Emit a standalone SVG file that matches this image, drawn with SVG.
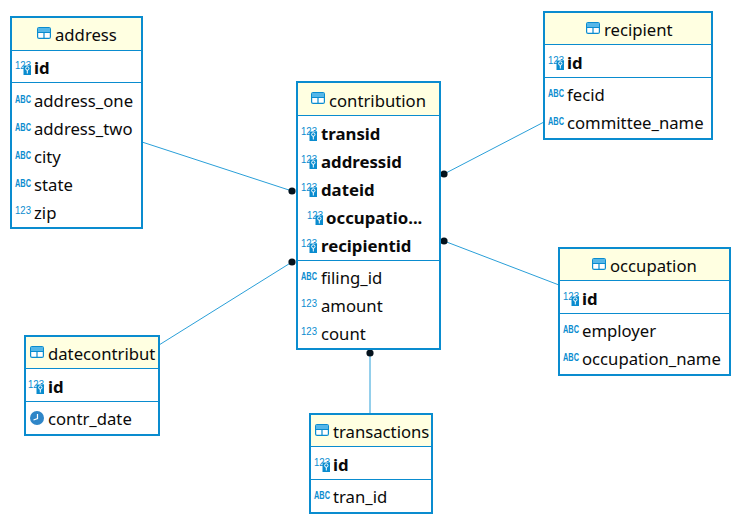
<svg xmlns="http://www.w3.org/2000/svg" width="741" height="525" viewBox="0 0 741 525">
<style>
.box{fill:#fff;stroke:#0a8ccf;stroke-width:2}
.hd{fill:#ffffe1}
.sep{stroke:#0a8ccf;stroke-width:1;fill:none}
.t{font-family:"Noto Sans","Open Sans",sans-serif;font-size:16.7px;fill:#0a0a0a}
.b{font-weight:700;font-size:16.800px}
.c{fill:none;stroke:#2a9fd8;stroke-width:1}
.ic{font-family:"Liberation Sans",sans-serif;fill:#0a8ccf}
.n{font-size:10.5px}
.a{font-size:10px;font-weight:700}
</style>
<defs>
<marker id="dot" markerUnits="userSpaceOnUse" markerWidth="9" markerHeight="9" refX="4.5" refY="4.5"><circle cx="4.5" cy="4.5" r="3.6" fill="#04121c"/></marker>
<g id="tbl"><rect x="0.6" y="0.6" width="12.8" height="10.8" rx="1.5" fill="#fff" stroke="#0a8ccf" stroke-width="1.2"/><rect x="1" y="1" width="12" height="4" fill="#55b7e8"/><path d="M1 5.500H14M7 5.500V11.500" stroke="#0a8ccf" stroke-width="1.2" fill="none"/></g>
<g id="key"><text class="ic n" x="0" y="9" textLength="16" lengthAdjust="spacingAndGlyphs">123</text><rect x="8.500" y="5.500" width="7.500" height="9.500" fill="#0a8ccf"/><circle cx="12.300" cy="8.500" r="1.700" fill="none" stroke="#fff"/><path d="M12.300 10V13.500" stroke="#fff"/></g>
<text id="num" class="ic n" x="0" y="9" textLength="16" lengthAdjust="spacingAndGlyphs">123</text>
<text id="abc" class="ic a" x="0" y="7.500" textLength="16" lengthAdjust="spacingAndGlyphs">ABC</text>
<g id="clk"><circle cx="7" cy="7" r="7" fill="#2f86c8"/><path d="M7.500 3V7.500L3.500 9" stroke="#fff" stroke-width="1.2" fill="none"/></g>
</defs>
<rect width="741" height="525" fill="#fff"/>
<g id="connectors">
<path class="c" marker-end="url(#dot)" d="M142 142L292 191"/>
<path class="c" marker-end="url(#dot)" d="M159 345L292 262"/>
<path class="c" marker-end="url(#dot)" d="M544 122L444 174"/>
<path class="c" marker-end="url(#dot)" d="M559 285L444 241"/>
<path class="c" marker-end="url(#dot)" d="M370 414V353"/>
</g>
<g id="address">
<rect class="box" x="11" y="17" width="131" height="211"/><rect class="hd" x="12" y="18" width="129" height="32"/>
<path class="sep" d="M12 50.500H141M12 82.500H141"/>
<use href="#tbl" x="37" y="27"/><text class="t" x="55" y="41">address</text>
<use href="#key" x="15" y="60"/><text class="t b" x="34" y="74">id</text>
<use href="#abc" x="15" y="95"/><text class="t" x="34" y="107">address_one</text>
<use href="#abc" x="15" y="123"/><text class="t" x="34" y="135">address_two</text>
<use href="#abc" x="15" y="151"/><text class="t" x="34" y="163">city</text>
<use href="#abc" x="15" y="179"/><text class="t" x="34" y="191">state</text>
<use href="#num" x="15" y="205"/><text class="t" x="34" y="219">zip</text>
</g>
<g id="contribution">
<rect class="box" x="297" y="82" width="143" height="267"/><rect class="hd" x="298" y="83" width="141" height="32"/>
<path class="sep" d="M298 115.500H439M298 260.500H439"/>
<use href="#tbl" x="311" y="92"/><text class="t" x="329" y="107">contribution</text>
<use href="#key" x="301" y="126"/><text class="t b" x="321" y="140">transid</text>
<use href="#key" x="301" y="154"/><text class="t b" x="321" y="168">addressid</text>
<use href="#key" x="301" y="182"/><text class="t b" x="321" y="196">dateid</text>
<use href="#key" x="307" y="210"/><text class="t b" x="326" y="224">occupatio...</text>
<use href="#key" x="301" y="238"/><text class="t b" x="321" y="252">recipientid</text>
<use href="#abc" x="301" y="272"/><text class="t" x="321" y="284">filing_id</text>
<use href="#num" x="301" y="298"/><text class="t" x="321" y="312">amount</text>
<use href="#num" x="301" y="326"/><text class="t" x="321" y="340">count</text>
</g>
<g id="recipient">
<rect class="box" x="544" y="12" width="168" height="127"/><rect class="hd" x="545" y="13" width="166" height="31"/>
<path class="sep" d="M545 44.500H711M545 77.500H711"/>
<use href="#tbl" x="586" y="22"/><text class="t" x="604" y="36">recipient</text>
<use href="#key" x="548" y="55"/><text class="t b" x="567" y="69">id</text>
<use href="#abc" x="548" y="89"/><text class="t" x="567" y="101">fecid</text>
<use href="#abc" x="548" y="117"/><text class="t" x="567" y="129">committee_name</text>
</g>
<g id="occupation">
<rect class="box" x="559" y="248" width="171" height="127"/><rect class="hd" x="560" y="249" width="169" height="31"/>
<path class="sep" d="M560 280.500H729M560 313.500H729"/>
<use href="#tbl" x="592" y="258"/><text class="t" x="610" y="272">occupation</text>
<use href="#key" x="563" y="291"/><text class="t b" x="582" y="305">id</text>
<use href="#abc" x="563" y="325"/><text class="t" x="582" y="337">employer</text>
<use href="#abc" x="563" y="353"/><text class="t" x="582" y="365">occupation_name</text>
</g>
<g id="datecontribut">
<rect class="box" x="25" y="336" width="134" height="99"/><rect class="hd" x="26" y="337" width="132" height="31"/>
<path class="sep" d="M26 368.500H158M26 401.500H158"/>
<use href="#tbl" x="30" y="346"/><text class="t" x="48" y="360">datecontribut</text>
<use href="#key" x="28" y="379"/><text class="t b" x="48" y="393">id</text>
<use href="#clk" x="30" y="411"/><text class="t" x="48" y="425">contr_date</text>
</g>
<g id="transactions">
<rect class="box" x="310" y="414" width="122" height="99"/><rect class="hd" x="311" y="415" width="120" height="31"/>
<path class="sep" d="M311 446.500H431M311 479.500H431"/>
<use href="#tbl" x="315" y="424"/><text class="t" x="333" y="438">transactions</text>
<use href="#key" x="314" y="457"/><text class="t b" x="333" y="471">id</text>
<use href="#abc" x="314" y="491"/><text class="t" x="333" y="503">tran_id</text>
</g>
</svg>
